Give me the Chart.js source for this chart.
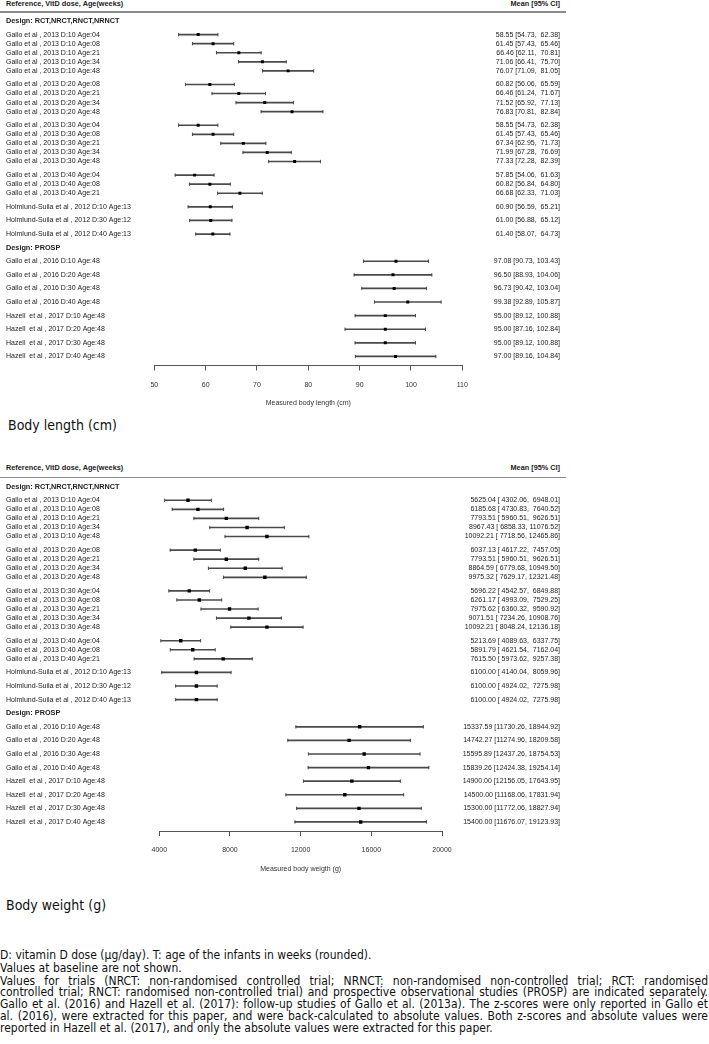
<!DOCTYPE html>
<html>
<head>
<meta charset="utf-8">
<script src="https://cdn.jsdelivr.net/npm/chart.js@4.4.1/dist/chart.umd.min.js"></script>
<style>
  body { margin: 0; width: 709px; height: 1044px; position: relative; overflow: hidden; background: #fff;
         font-family: "Liberation Sans", Arial, sans-serif; color: #222; }
  .abs { position: absolute; white-space: nowrap; }
  .hdr { font-size: 7.3px; font-weight: bold; line-height: 10px; }
  .rule { position: absolute; left: 0; width: 566px; height: 1.5px; background: #8a8a8a; }
  .big { font-family: "DejaVu Sans Condensed", "DejaVu Sans", sans-serif; font-size: 14px; line-height: 18px; color: #111; }
  .note { position: absolute; left: 0; width: 708px; font-family: "DejaVu Sans Condensed", "DejaVu Sans", sans-serif;
          line-height: 12px; color: #111; white-space: nowrap; }
  .just { text-align: justify; text-align-last: justify; white-space: normal; }
  .box { position: absolute; left: 0; }
</style>
</head>
<body>

<div class="abs hdr" style="left:6px; top:-1px;">Reference, VitD dose, Age(weeks)</div>
<div class="abs hdr" style="left:0; width:560px; text-align:right; top:-1px;">Mean [95% CI]</div>
<div class="rule" style="top:11.3px;"></div>
<div class="box" style="top:0;"><canvas id="lengthChart" width="709" height="407"></canvas></div>
<div class="abs big" style="left:8px; top:416px;">Body length (cm)</div>

<div class="abs hdr" style="left:6px; top:463.3px;">Reference, VitD dose, Age(weeks)</div>
<div class="abs hdr" style="left:0; width:560px; text-align:right; top:463.3px;">Mean [95% CI]</div>
<div class="rule" style="top:476.5px;"></div>
<div class="box" style="top:466px;"><canvas id="weightChart" width="709" height="407"></canvas></div>
<div class="abs big" style="left:6px; top:896px;">Body weight (g)</div>

<div id="notes"></div>

<script>
// rows (same for both plots)
const studyLabels = [
  'Gallo et al , 2013 D:10 Age:04', 'Gallo et al , 2013 D:10 Age:08', 'Gallo et al , 2013 D:10 Age:21',
  'Gallo et al , 2013 D:10 Age:34', 'Gallo et al , 2013 D:10 Age:48',
  'Gallo et al , 2013 D:20 Age:08', 'Gallo et al , 2013 D:20 Age:21', 'Gallo et al , 2013 D:20 Age:34',
  'Gallo et al , 2013 D:20 Age:48',
  'Gallo et al , 2013 D:30 Age:04', 'Gallo et al , 2013 D:30 Age:08', 'Gallo et al , 2013 D:30 Age:21',
  'Gallo et al , 2013 D:30 Age:34', 'Gallo et al , 2013 D:30 Age:48',
  'Gallo et al , 2013 D:40 Age:04', 'Gallo et al , 2013 D:40 Age:08', 'Gallo et al , 2013 D:40 Age:21',
  'Holmlund-Suila et al , 2012 D:10 Age:13', 'Holmlund-Suila et al , 2012 D:30 Age:12',
  'Holmlund-Suila et al , 2012 D:40 Age:13',
  'Gallo et al , 2016 D:10 Age:48', 'Gallo et al , 2016 D:20 Age:48', 'Gallo et al , 2016 D:30 Age:48',
  'Gallo et al , 2016 D:40 Age:48',
  'Hazell  et al , 2017 D:10 Age:48', 'Hazell  et al , 2017 D:20 Age:48', 'Hazell  et al , 2017 D:30 Age:48',
  'Hazell  et al , 2017 D:40 Age:48'
];
const studyDesign = [0,0,0,0,0, 0,0,0,0, 0,0,0,0,0, 0,0,0, 0,0,0, 1,1,1,1, 1,1,1,1];
const designNames = ['Design: RCT,NRCT,RNCT,NRNCT', 'Design: PROSP'];

// body length (cm)
const lengthMean = [58.55, 61.45, 66.46, 71.06, 76.07, 60.82, 66.46, 71.52, 76.83,
  58.55, 61.45, 67.34, 71.99, 77.33, 57.85, 60.82, 66.68, 60.90, 61.00, 61.40,
  97.08, 96.50, 96.73, 99.38, 95.00, 95.00, 95.00, 97.00];
const lengthLow = [54.73, 57.43, 62.11, 66.41, 71.09, 56.06, 61.24, 65.92, 70.81,
  54.73, 57.43, 62.95, 67.28, 72.28, 54.06, 56.84, 62.33, 56.59, 56.88, 58.07,
  90.73, 88.93, 90.42, 92.89, 89.12, 87.16, 89.12, 89.16];
const lengthHigh = [62.38, 65.46, 70.81, 75.70, 81.05, 65.59, 71.67, 77.13, 82.84,
  62.38, 65.46, 71.73, 76.69, 82.39, 61.63, 64.80, 71.03, 65.21, 65.12, 64.73,
  103.43, 104.06, 103.04, 105.87, 100.88, 102.84, 100.88, 104.84];
const lengthTicks = [50, 60, 70, 80, 90, 100, 110];

// body weight (g)
const weightMean = [5625.04, 6185.68, 7793.51, 8967.43, 10092.21, 6037.13, 7793.51, 8864.59, 9975.32,
  5696.22, 6261.17, 7975.62, 9071.51, 10092.21, 5213.69, 5891.79, 7615.50, 6100.00, 6100.00, 6100.00,
  15337.59, 14742.27, 15595.89, 15839.26, 14900.00, 14500.00, 15300.00, 15400.00];
const weightLow = [4302.06, 4730.83, 5960.51, 6858.33, 7718.56, 4617.22, 5960.51, 6779.68, 7629.17,
  4542.57, 4993.09, 6360.32, 7234.26, 8048.24, 4089.63, 4621.54, 5973.62, 4140.04, 4924.02, 4924.02,
  11730.26, 11274.96, 12437.26, 12424.38, 12156.05, 11168.06, 11772.06, 11676.07];
const weightHigh = [6948.01, 7640.52, 9626.51, 11076.52, 12465.86, 7457.05, 9626.51, 10949.50, 12321.48,
  6849.88, 7529.25, 9590.92, 10908.76, 12136.18, 6337.75, 7162.04, 9257.38, 8059.96, 7275.98, 7275.98,
  18944.92, 18209.58, 18754.53, 19254.14, 17643.95, 17831.94, 18827.94, 19123.93];
const weightTicks = [4000, 8000, 12000, 16000, 20000];

const noteLines = [
  'D: vitamin D dose (µg/day). T: age of the infants in weeks (rounded).',
  'Values at baseline are not shown.',
  'Values for trials (NRCT: non-randomised controlled trial; NRNCT: non-randomised non-controlled trial; RCT: randomised',
  'controlled trial; RNCT: randomised non-controlled trial) and prospective observational studies (PROSP) are indicated separately.',
  'Gallo et al. (2016) and Hazell et al. (2017): follow-up studies of Gallo et al. (2013a). The z-scores were only reported in Gallo et',
  'al. (2016), were extracted for this paper, and were back-calculated to absolute values. Both z-scores and absolute values were',
  'reported in Hazell et al. (2017), and only the absolute values were extracted for this paper.'
];

const FONT = '"Liberation Sans", Arial, sans-serif';

function forestPlot(id, mean, low, high, ticks, xTitle, opts) {
  // slot layout: rows of one dose group sit closer together
  const cats = [], ciCats = [], rowPos = [];
  let pos = -1, lastDesign = null, lastBlock = null;
  const put = (text, step) => {
    pos += step;
    while (cats.length <= pos) { cats.push(''); ciCats.push(''); }
    cats[pos] = text;
  };
  studyLabels.forEach((lab, i) => {
    const block = lab.split(' Age')[0];
    if (studyDesign[i] !== lastDesign) {
      put(designNames[studyDesign[i]], pos < 0 ? 1 : 3);
      lastDesign = studyDesign[i];
      lastBlock = null;
    }
    put(lab, block === lastBlock ? 2 : 3);
    rowPos.push(pos);
    lastBlock = block;
  });
  put('', 2);

  const wLo = Math.max(...low.map(v => v.toFixed(2).length));
  const wHi = Math.max(...high.map(v => v.toFixed(2).length));
  const meanData = cats.map(() => null);
  const ciData = cats.map(() => null);
  const loData = cats.map(() => null);
  const hiData = cats.map(() => null);
  rowPos.forEach((p, i) => {
    meanData[p] = mean[i];
    ciData[p] = [low[i], high[i]];
    loData[p] = low[i];
    hiData[p] = high[i];
    ciCats[p] = mean[i].toFixed(2) + ' [' + low[i].toFixed(2).padStart(wLo) + ', ' +
      high[i].toFixed(2).padStart(wHi) + ']';
  });

  const lineCol = '#4a4a4a';
  const capSet = data => ({
    type: 'line', data: data, indexAxis: 'y', showLine: false, order: 1,
    pointStyle: 'line', pointRotation: 90, pointRadius: 1.7,
    pointBorderColor: lineCol, pointBorderWidth: 1, xAxisID: 'x', yAxisID: 'y'
  });

  new Chart(document.getElementById(id), {
    type: 'bar',
    data: {
      labels: cats,
      datasets: [
        { type: 'line', data: meanData, indexAxis: 'y', showLine: false, order: 0,
          pointStyle: 'rect', pointRadius: opts.dot, pointBackgroundColor: '#000',
          pointBorderWidth: 0, xAxisID: 'x', yAxisID: 'y' },
        capSet(loData),
        capSet(hiData),
        { type: 'bar', data: ciData, indexAxis: 'y', order: 2, barThickness: 1,
          backgroundColor: lineCol, borderWidth: 0, xAxisID: 'x', yAxisID: 'y' }
      ]
    },
    options: {
      responsive: false,
      animation: false,
      events: [],
      indexAxis: 'y',
      layout: { padding: { top: opts.top, left: 6, right: 149, bottom: 0 } },
      plugins: { legend: { display: false }, tooltip: { enabled: false } },
      scales: {
        x: {
          type: 'linear', position: 'bottom', min: ticks[0], max: ticks[ticks.length - 1],
          afterBuildTicks: s => { s.ticks = ticks.map(v => ({ value: v })); },
          afterFit: s => { s.height = opts.xHeight; },
          ticks: { font: { family: FONT, size: 7 }, color: '#333', padding: 10, maxRotation: 0,
                   autoSkip: false, callback: v => String(v) },
          grid: { display: true, drawOnChartArea: false, drawTicks: true, tickLength: 5, color: '#555' },
          border: { display: true, color: '#555', width: 1 },
          title: { display: true, text: xTitle, font: { family: FONT, size: 7 }, color: '#333',
                   padding: { top: 0, bottom: 0 } }
        },
        y: {
          type: 'category', position: 'left', offset: false,
          grid: { display: false }, border: { display: false },
          afterFit: s => { s.width = opts.left - 6; },
          ticks: {
            autoSkip: false, crossAlign: 'far', padding: 0, color: '#222',
            font: ctx => {
              const bold = String(cats[ctx.index] || '').startsWith('Design');
              return { family: FONT, size: bold ? 7.3 : 7, weight: bold ? 'bold' : 'normal' };
            }
          }
        },
        y2: {
          type: 'category', position: 'right', offset: false, labels: ciCats,
          grid: { display: false }, border: { display: false },
          afterFit: s => { s.width = 560 - opts.right; },
          ticks: { autoSkip: false, crossAlign: 'far', padding: 0, color: '#222',
                   font: { family: FONT, size: 7 } }
        }
      }
    }
  });
}

forestPlot('lengthChart', lengthMean, lengthLow, lengthHigh, lengthTicks, 'Measured body length (cm)',
  { top: 21, xHeight: 41.5, left: 154.3, right: 462.3, dot: 2.1 });
forestPlot('weightChart', weightMean, weightLow, weightHigh, weightTicks, 'Measured body weigth (g)',
  { top: 20.7, xHeight: 42, left: 159.3, right: 442, dot: 2.4 });

// footnote: shrink the font until the longest justified line fits
const notes = document.getElementById('notes');
const noteFont = '"DejaVu Sans Condensed"';
const mctx = document.createElement('canvas').getContext('2d');
let fs = 12.5;
while (fs > 8) {
  mctx.font = fs + 'px ' + noteFont;
  if (Math.max(...noteLines.slice(2, 6).map(t => mctx.measureText(t).width)) <= 703) break;
  fs -= 0.25;
}
const noteCenters = [955, 967.5, 980.5, 991.6, 1003.7, 1016.2, 1028.3];
noteLines.forEach((t, i) => {
  const d = document.createElement('div');
  d.className = 'note' + (i >= 2 && i <= 5 ? ' just' : '');
  d.style.top = (noteCenters[i] - 6) + 'px';
  d.style.fontSize = fs + 'px';
  d.textContent = t;
  notes.appendChild(d);
});
</script>
</body>
</html>
